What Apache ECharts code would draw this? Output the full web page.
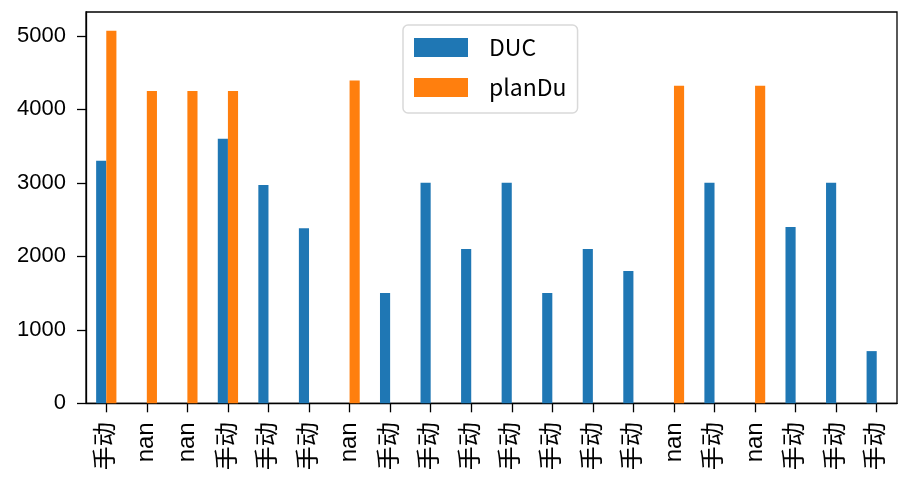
<!DOCTYPE html>
<html>
<head>
<meta charset="utf-8">
<script src="https://cdn.jsdelivr.net/npm/echarts@6/dist/echarts.min.js"></script>
<style>html,body{margin:0;padding:0;background:#fff;}#c{width:899px;height:477px;}</style>
</head>
<body>
<div id="c"></div>
<script>
const categories = ['手动','nan','nan','手动','手动','手动','nan','手动','手动','手动','手动','手动','手动','手动','nan','手动','nan','手动','手动','手动'];
const ducValues = [3300,'-','-',3600,2970,2380,'-',1500,3000,2100,3000,1500,2100,1800,'-',3000,'-',2400,3000,710];
const planDuValues = [5070,4250,4250,4250,'-','-',4390,'-','-','-','-','-','-','-',4320,'-',4320,'-','-','-'];
const yTicks = [0,1000,2000,3000,4000,5000];

const chart = echarts.init(document.getElementById('c'));
const axisFont = 'Liberation Sans, Arial, "Noto Sans CJK SC", sans-serif';
chart.setOption({
  animation: false,
  backgroundColor: '#fff',
  grid: { left: 86, right: 2, top: 12, bottom: 73.7, show: true, borderColor: '#000', borderWidth: 1.3, backgroundColor: 'transparent' },
  legend: {
    orient: 'vertical', left: 403, top: 25,
    padding: [11, 11, 14, 11],
    itemWidth: 54, itemHeight: 19, itemGap: 17,
    borderColor: '#d9d9d9', borderWidth: 1.5, borderRadius: 5,
    backgroundColor: 'rgba(255,255,255,0.8)',
    icon: 'rect',
    textStyle: { fontFamily: '"Noto Sans CJK SC", sans-serif', fontSize: 23, color: '#000', padding: [0,0,0,16] },
    data: ['DUC','planDu']
  },
  xAxis: {
    type: 'category', data: categories,
    axisLine: { show: true, lineStyle: { color: '#000', width: 1.3 } },
    axisTick: { show: true, alignWithLabel: true, length: 9, lineStyle: { color: '#000', width: 1.3 } },
    axisLabel: { rotate: 90, interval: 0, margin: 19, color: '#000', fontSize: 24, fontFamily: axisFont },
    splitLine: { show: false }
  },
  yAxis: {
    type: 'value', min: 0, max: 5323.5,
    axisLine: { show: true, lineStyle: { color: '#000', width: 1.3 } },
    axisTick: { show: true, length: 9, customValues: yTicks, lineStyle: { color: '#000', width: 1.3 } },
    axisLabel: { customValues: yTicks, formatter: function (v) { return String(v); }, margin: 20, color: '#000', fontSize: 22, fontFamily: axisFont },
    splitLine: { show: false }
  },
  series: [
    { name: 'DUC', type: 'bar', data: ducValues, barWidth: '25%', barGap: '0%', itemStyle: { color: '#1f77b4' } },
    { name: 'planDu', type: 'bar', data: planDuValues, barWidth: '25%', barGap: '0%', itemStyle: { color: '#ff7f0e' } }
  ]
});
</script>
</body>
</html>
